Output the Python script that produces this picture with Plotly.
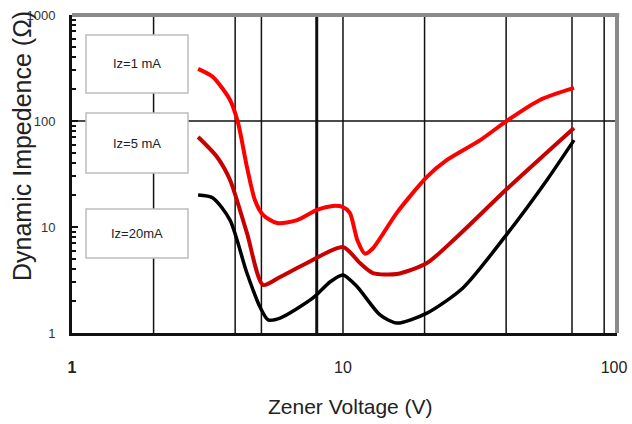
import math
import plotly.graph_objects as go

# ---- data ----
x_1mA = [2.92, 3.31, 3.83, 4.10, 4.42, 4.73, 5.07, 5.71, 6.77, 8.02, 9.18, 10.0, 10.6, 11.3, 12.06, 12.9, 15.8, 20.4, 24.2, 32.1, 40.6, 53.3, 71.2]
y_1mA = [310, 260, 158, 96, 37, 18, 13.0, 10.9, 11.6, 14.5, 15.8, 15.4, 13.6, 7.5, 5.6, 6.3, 13.6, 29.7, 42.9, 66, 102, 158, 205]

x_5mA = [2.92, 3.43, 3.83, 4.42, 5.07, 5.86, 7.36, 10.0, 11.55, 12.9, 15.8, 20.4, 26.3, 40.6, 71.2]
y_5mA = [70.6, 45.8, 27.8, 8.8, 2.84, 3.38, 4.57, 6.48, 4.57, 3.68, 3.6, 4.57, 8.05, 23.3, 85.9]

x_20mA = [2.92, 3.31, 3.83, 4.42, 4.94, 5.29, 5.86, 7.75, 8.95, 10.0, 11.3, 13.7, 15.8, 20.4, 27.7, 40.6, 56.6, 71.2]
y_20mA = [20, 18.8, 11.6, 3.68, 1.76, 1.33, 1.38, 2.14, 3.03, 3.53, 2.72, 1.48, 1.24, 1.54, 2.66, 8.8, 27.8, 66]

series_labels = ["Iz=1 mA", "Iz=5 mA", "Iz=20mA"]
x_tick_vals = [1, 10, 100]
x_tick_text = ["<b>1</b>", "10", "100"]
y_tick_vals = [1, 10, 100, 1000]
y_tick_text = ["1", "10", "100", "1000"]
x_grid_vals = [2, 4, 5, 8, 10, 20, 40, 70, 92]
y_grid_vals = [100]

FONT = "Liberation Sans, Arial"

fig = go.Figure()
for xs, ys, col, w, name in [
    (x_1mA, y_1mA, "#ff0000", 4, series_labels[0]),
    (x_5mA, y_5mA, "#c80000", 4, series_labels[1]),
    (x_20mA, y_20mA, "#000000", 3.5, series_labels[2]),
]:
    fig.add_trace(go.Scatter(x=xs, y=ys, mode="lines", name=name,
                             line=dict(color=col, width=w, shape="spline", smoothing=0.7),
                             showlegend=False))

shapes = []
for gv in x_grid_vals:
    shapes.append(dict(type="line", xref="x", yref="paper", x0=gv, x1=gv,
                       y0=0, y1=1, line=dict(color="#111", width=3 if gv == 8 else 1.5), layer="below"))
for gv in y_grid_vals:
    shapes.append(dict(type="line", xref="paper", yref="y", x0=0, x1=1, y0=gv, y1=gv,
                       line=dict(color="#111", width=1.5), layer="below"))
# top & right frame (gray)
shapes.append(dict(type="line", xref="paper", yref="paper", x0=0, x1=1.004, y0=1, y1=1,
                   line=dict(color="#8a8a8a", width=4)))
shapes.append(dict(type="line", xref="paper", yref="paper", x0=1, x1=1, y0=0, y1=1,
                   line=dict(color="#8a8a8a", width=4)))

# label boxes (pixel geometry converted to paper coords)
L, R, T, B = 72, 617, 15, 333
def px(xp):
    return (xp - L) / (R - L)
def py(yp):
    return (B - yp) / (B - T)

boxes = [(86, 188, 35, 93), (86, 188, 113, 173), (86, 188, 209, 258)]
annotations = []
for i, (bx0, bx1, by0, by1) in enumerate(boxes):
    shapes.append(dict(type="rect", xref="paper", yref="paper", x0=px(bx0), x1=px(bx1),
                       y0=py(by1), y1=py(by0), fillcolor="white",
                       line=dict(color="#bdbdbd", width=1.5), layer="above"))
    annotations.append(dict(x=px((bx0 + bx1) / 2), y=py((by0 + by1) / 2), xref="paper", yref="paper",
                            xanchor="center", yanchor="middle",
                            text=series_labels[i], showarrow=False,
                            font=dict(size=13, color="#222", family=FONT)))

annotations.append(dict(x=px(350), y=py(406), xref="paper", yref="paper", text="Zener Voltage (V)",
                        xanchor="center", yanchor="middle",
                        showarrow=False, font=dict(size=21, color="#222", family=FONT)))
annotations.append(dict(x=px(22), y=py(146), xref="paper", yref="paper", text="Dynamic Impedence (Ω)",
                        xanchor="center", yanchor="middle",
                        textangle=-90, showarrow=False,
                        font=dict(size=25, color="#222", family=FONT)))

minor_y = [m * 10 ** d for d in range(0, 3) for m in range(2, 10)]

fig.update_layout(
    width=632, height=424,
    margin=dict(l=L, r=632 - R, t=T, b=424 - B, autoexpand=False),
    paper_bgcolor="white", plot_bgcolor="white",
    shapes=shapes, annotations=annotations,
    xaxis=dict(type="log", range=[0, math.log10(102.6)], tickvals=x_tick_vals, ticktext=x_tick_text,
               showgrid=False, zeroline=False, showline=True, linecolor="#111", linewidth=3,
               ticks="", ticklabelstandoff=18, automargin=False,
               tickfont=dict(size=16, color="#222", family=FONT)),
    yaxis=dict(type="log", range=[0, 3], tickvals=y_tick_vals, ticktext=y_tick_text,
               showgrid=False, zeroline=False, showline=True, linecolor="#111", linewidth=3,
               ticks="inside", ticklen=6, tickcolor="#111", tickwidth=2, ticklabelstandoff=11,
               automargin=False,
               minor=dict(tickvals=minor_y, ticks="inside", ticklen=4, tickcolor="#111", tickwidth=1.5, showgrid=False),
               tickfont=dict(size=13, color="#333", family=FONT)),
)

fig.write_html("out.html", config={"displayModeBar": False},
               post_script="document.body.style.margin='0px';document.body.style.overflow='hidden';")
